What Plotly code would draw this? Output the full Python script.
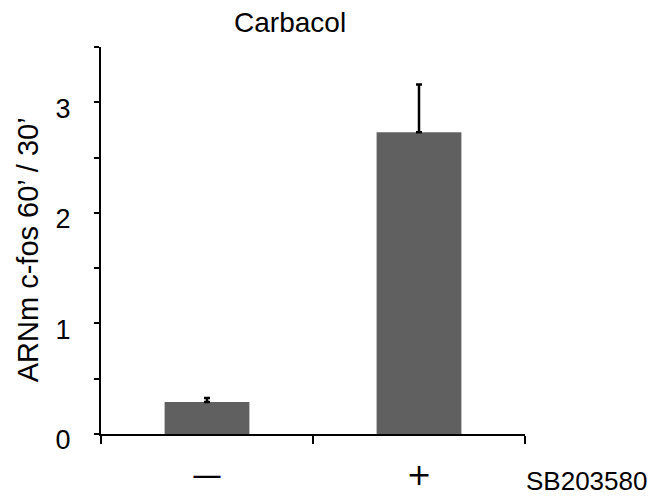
import plotly.graph_objects as go

# Treatment groups and measured ratios
groups = ["—", "+"]
ratio = [0.29, 2.73]
ratio_err = [0.035, 0.43]
x_pos = [0, 1]

fig = go.Figure()
fig.add_trace(go.Bar(
    x=x_pos,
    y=ratio,
    width=0.4,
    marker=dict(color="#606060", line=dict(width=0)),
    error_y=dict(type="data", array=ratio_err, symmetric=False,
                 arrayminus=[0, 0], color="black", thickness=2.5, width=3),
    showlegend=False,
))

fig.update_layout(
    width=650, height=500,
    margin=dict(l=101, r=125, t=47, b=66, autoexpand=False),
    paper_bgcolor="white", plot_bgcolor="white",
    font=dict(family="Liberation Sans, Arial, sans-serif", color="black"),
    title=dict(text="Carbacol", x=0.446, xref="paper", xanchor="center",
               y=0.956, yanchor="middle", font=dict(size=28)),
    xaxis=dict(
        range=[-0.5, 1.5], tickmode="array", tickvals=x_pos, ticktext=groups,
        ticks="", showline=True, linecolor="black", linewidth=2,
        showgrid=False, zeroline=False, automargin=False,
        tickfont=dict(size=30, family="DejaVu Sans"),
        ticklabelstandoff=13,
        minor=dict(tickmode="array", tickvals=[-0.5, 0.5, 1.5], ticks="outside",
                   ticklen=8, tickwidth=2, tickcolor="black", showgrid=False),
    ),
    yaxis=dict(
        range=[0, 3.5], tickmode="linear", tick0=0, dtick=1,
        ticks="outside", ticklen=5, tickwidth=2, tickcolor="black",
        showline=True, linecolor="black", linewidth=2,
        showgrid=False, zeroline=False, automargin=False,
        tickfont=dict(size=27), ticklabelstandoff=18, ticklabelshift=6,
        minor=dict(dtick=0.5, ticks="outside", ticklen=5, tickwidth=2,
                   tickcolor="black", showgrid=False),
    ),
    annotations=[
        dict(text="ARNm c-fos 60’ / 30’", textangle=-90,
             xref="paper", yref="paper", x=-0.172, y=0.475,
             xanchor="center", yanchor="middle", showarrow=False,
             font=dict(size=29)),
        dict(text="SB203580", xref="paper", yref="paper",
             x=0.998, y=-0.122, xanchor="left", yanchor="middle",
             showarrow=False, font=dict(size=26)),
    ],
)

fig.write_html("out.html")
